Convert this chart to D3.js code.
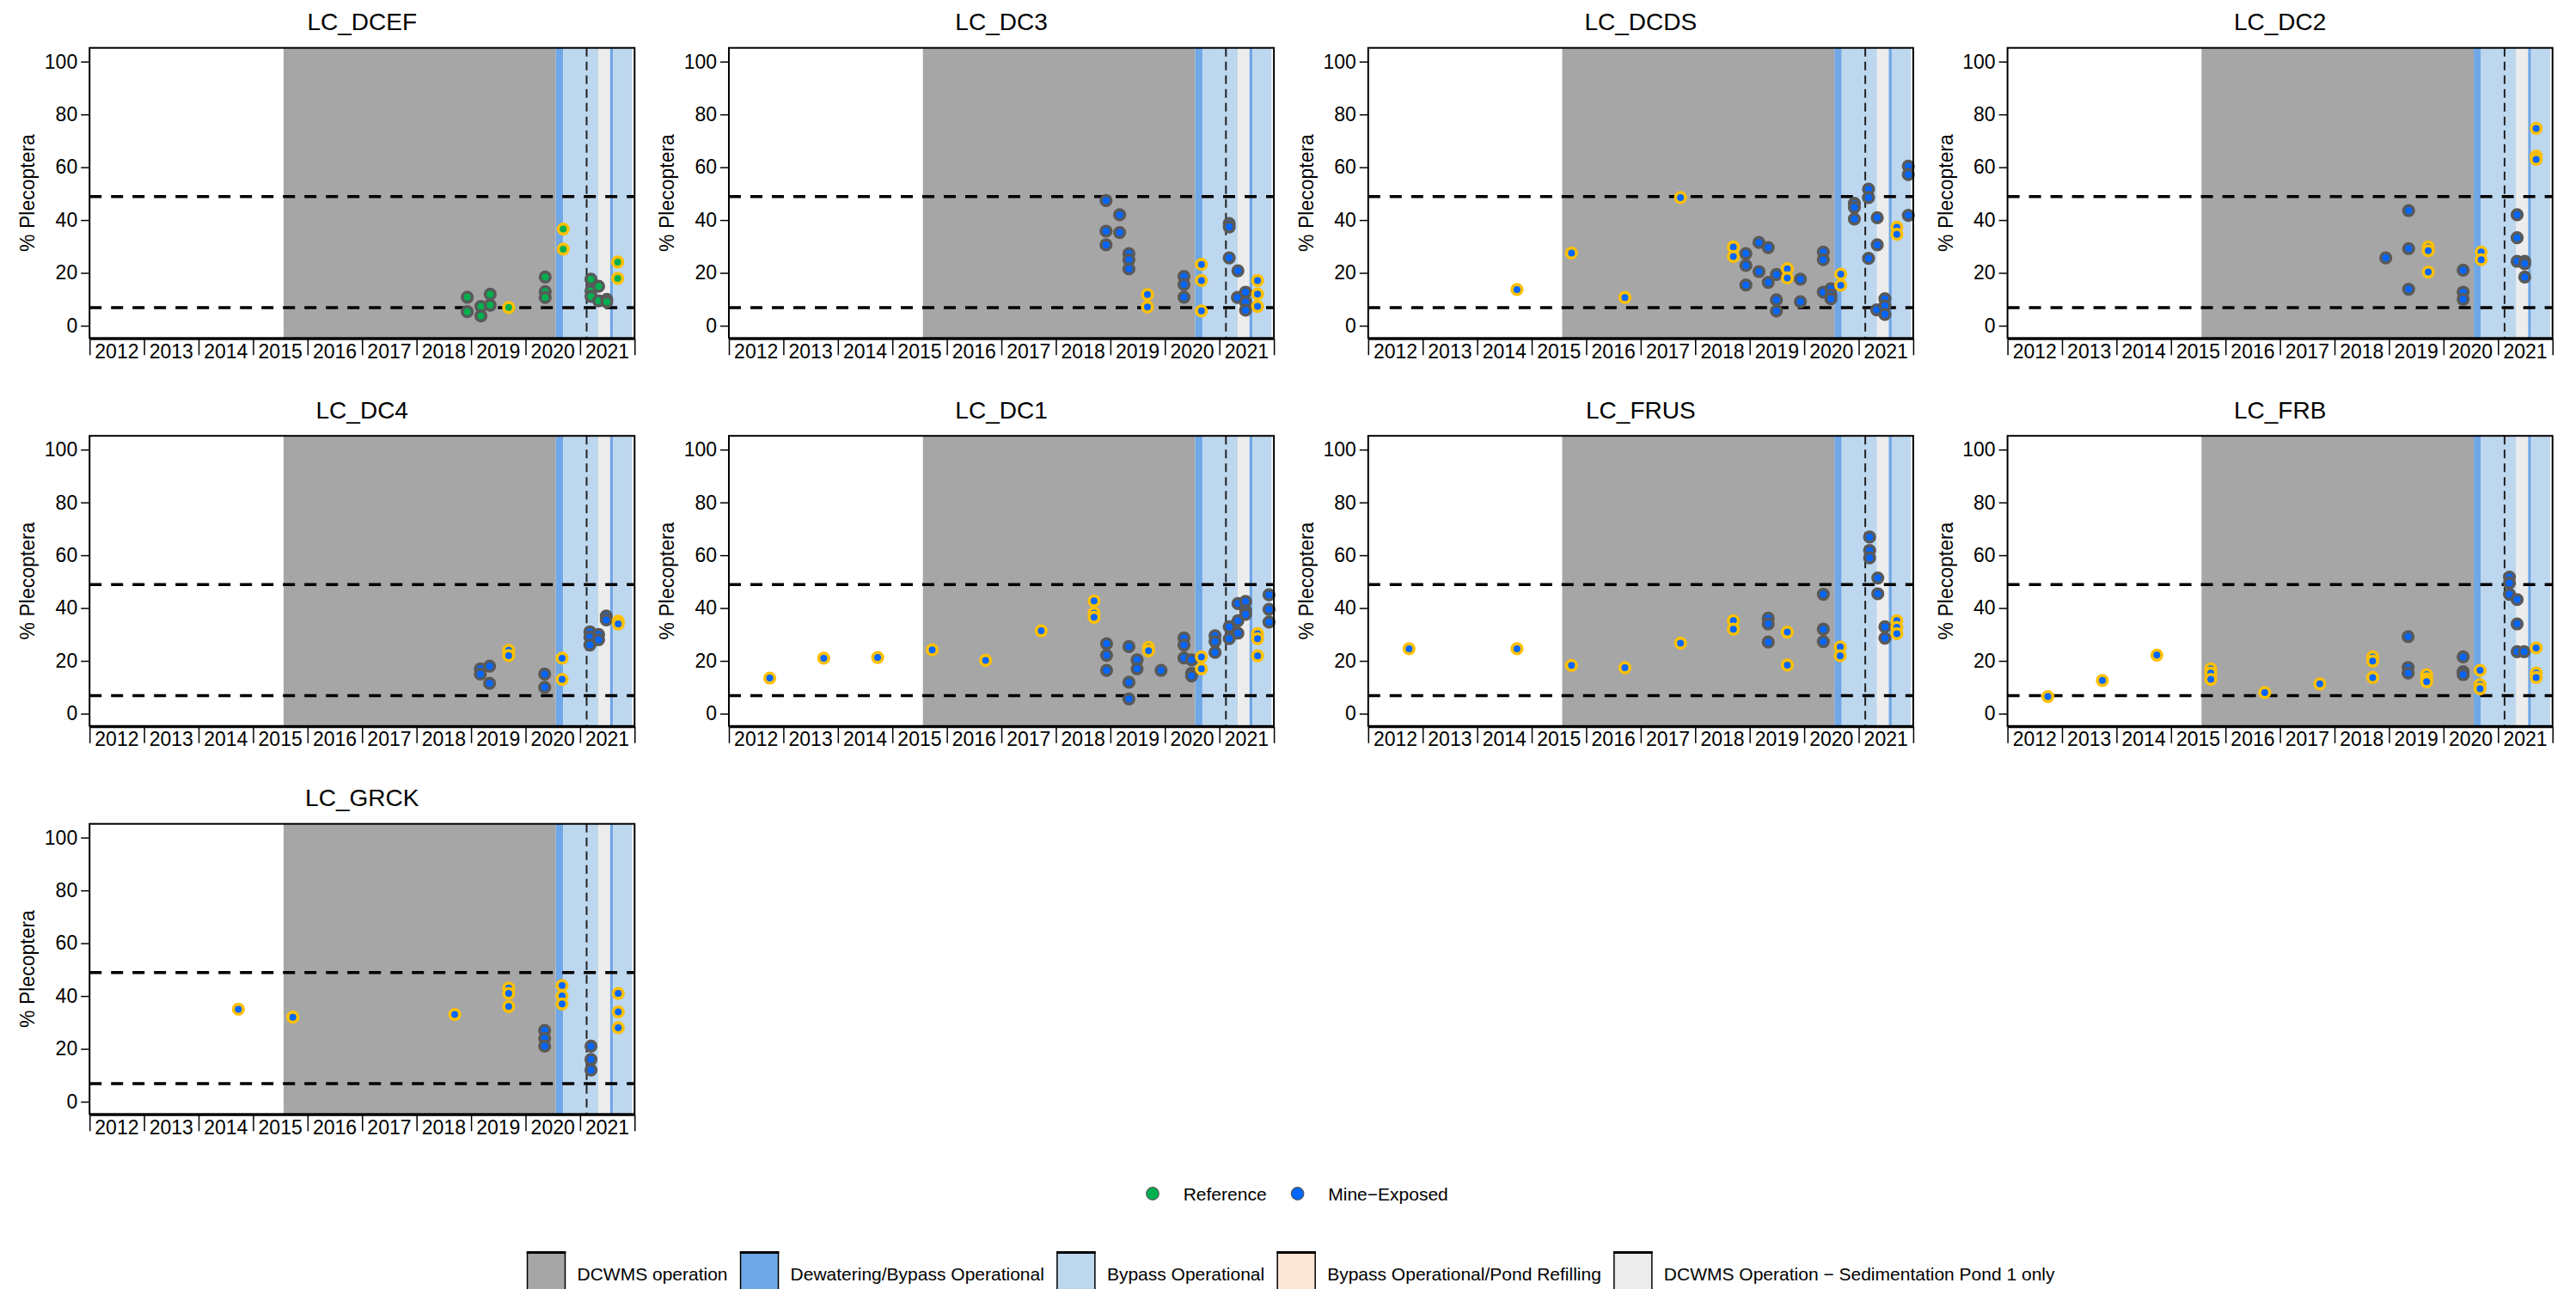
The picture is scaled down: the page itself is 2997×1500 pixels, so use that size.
<!DOCTYPE html>
<html>
<head>
<meta charset="utf-8">
<script src="https://cdn.jsdelivr.net/npm/d3@7"></script>
<style>
  body { margin: 0; background: #fff; }
  text { font-family: "Liberation Sans", Arial, Helvetica, sans-serif; fill: #000; }
</style>
</head>
<body>
<svg id="chart" width="2997" height="1500"></svg>
<script>
"use strict";

// sites, in panel order
var sites = ["LC_DCEF", "LC_DC3", "LC_DCDS", "LC_DC2", "LC_DC4", "LC_DC1", "LC_FRUS", "LC_FRB", "LC_GRCK"];
var siteType = ["Reference", "Mine-Exposed", "Mine-Exposed", "Mine-Exposed", "Mine-Exposed",
                "Mine-Exposed", "Mine-Exposed", "Mine-Exposed", "Mine-Exposed"];

var years = d3.range(2012, 2022);
var yTicks = [0, 20, 40, 60, 80, 100];
var benchmarks = [48.9, 6.8];
var transitionYear = 2021.12;

// operation periods: [start, end, period index] in decimal years
var periodNames = ["DCWMS operation", "Dewatering/Bypass Operational", "Bypass Operational",
                   "Bypass Operational/Pond Refilling", "DCWMS Operation \u2212 Sedimentation Pond 1 only"];
var periodColors = ["#a6a6a6", "#70a7e6", "#bdd7ee", "#fbe5d6", "#ececec"];
var periods = [
    [2015.56, 2020.555, 0],
    [2020.555, 2020.688, 1],
    [2020.688, 2021.336, 2],
    [2021.336, 2021.346, 3],
    [2021.346, 2021.552, 4],
    [2021.552, 2021.606, 1],
    [2021.606, 2021.957, 2]
];

// samples: [decimal year, % Plecoptera, ring (1 = gold, 0 = grey)]
var dcef = [
    [2018.93, 10.8, 0], [2018.93, 5.3, 0], [2019.18, 7.3, 0], [2019.18, 3.7, 0],
    [2019.35, 11.9, 0], [2019.35, 7.8, 0], [2019.69, 6.9, 1],
    [2020.36, 18.4, 0], [2020.36, 12.9, 0], [2020.36, 10.7, 0],
    [2020.69, 36.6, 1], [2020.69, 29.0, 1],
    [2021.20, 17.6, 0], [2021.20, 13.2, 0], [2021.20, 11.1, 0], [2021.34, 14.9, 0], [2021.34, 9.4, 0],
    [2021.49, 10.0, 0], [2021.49, 9.0, 0],
    [2021.69, 24.1, 1], [2021.69, 17.9, 1]
];
var dc3 = [
    [2018.92, 47.4, 0], [2019.17, 42.0, 0], [2018.92, 35.8, 0], [2019.17, 35.3, 0], [2018.92, 30.6, 0],
    [2019.34, 27.3, 0], [2019.34, 25.0, 0], [2019.34, 21.5, 0],
    [2019.68, 11.8, 1], [2019.68, 7.1, 1],
    [2020.35, 18.7, 0], [2020.35, 15.6, 0], [2020.35, 10.8, 0],
    [2020.67, 23.2, 1], [2020.67, 17.1, 1], [2020.67, 5.6, 1],
    [2021.18, 38.7, 0], [2021.18, 37.4, 0], [2021.18, 25.7, 0],
    [2021.34, 20.8, 0], [2021.33, 10.7, 0],
    [2021.48, 12.7, 0], [2021.48, 8.9, 0], [2021.48, 5.9, 0],
    [2021.70, 17.1, 1], [2021.70, 12.0, 1], [2021.70, 7.3, 1]
];
var dcds = [
    [2014.73, 13.7, 1], [2015.73, 27.5, 1], [2016.71, 10.7, 1], [2017.73, 48.5, 1],
    [2018.70, 29.8, 1], [2018.70, 26.2, 1],
    [2018.93, 27.3, 0], [2018.93, 22.8, 0], [2018.93, 15.4, 0],
    [2019.17, 31.5, 0], [2019.17, 20.5, 0], [2019.34, 29.6, 0], [2019.34, 16.4, 0],
    [2019.49, 19.4, 0], [2019.49, 9.8, 0], [2019.49, 5.6, 0],
    [2019.69, 21.6, 1], [2019.69, 18.1, 1],
    [2019.93, 17.6, 0], [2019.93, 9.1, 0],
    [2020.35, 27.9, 0], [2020.35, 25.0, 0], [2020.35, 12.7, 0],
    [2020.49, 14.0, 0], [2020.49, 11.6, 0], [2020.49, 10.2, 0],
    [2020.67, 19.5, 1], [2020.67, 15.3, 1],
    [2020.92, 46.3, 0], [2020.92, 44.8, 0], [2020.92, 40.4, 0],
    [2021.18, 51.7, 0], [2021.18, 48.5, 0], [2021.18, 25.5, 0],
    [2021.34, 40.9, 0], [2021.34, 30.6, 0], [2021.33, 6.0, 0],
    [2021.48, 10.2, 0], [2021.48, 7.5, 0], [2021.48, 4.3, 0],
    [2021.70, 37.3, 1], [2021.70, 34.6, 1],
    [2021.91, 60.4, 0], [2021.91, 57.2, 0], [2021.91, 41.8, 0]
];
var dc2 = [
    [2018.94, 25.7, 0], [2019.36, 43.6, 0], [2019.36, 29.2, 0], [2019.36, 13.8, 0],
    [2019.72, 29.8, 1], [2019.72, 28.4, 1], [2019.72, 20.3, 1],
    [2020.36, 21.0, 0], [2020.36, 12.7, 0], [2020.36, 10.0, 0],
    [2020.69, 27.9, 1], [2020.69, 25.0, 1],
    [2021.35, 42.0, 0], [2021.35, 33.3, 0], [2021.35, 24.4, 0],
    [2021.49, 24.4, 0], [2021.49, 23.5, 0], [2021.49, 18.4, 0],
    [2021.70, 74.7, 1], [2021.70, 64.2, 1], [2021.70, 63.0, 1]
];
var dc4 = [
    [2019.17, 17.0, 0], [2019.17, 15.0, 0], [2019.34, 18.0, 0], [2019.34, 11.5, 0],
    [2019.69, 24.0, 1], [2019.69, 22.0, 1],
    [2020.35, 15.0, 0], [2020.35, 10.0, 0],
    [2020.67, 21.0, 1], [2020.67, 13.0, 1],
    [2021.18, 31.0, 0], [2021.18, 29.0, 0], [2021.18, 26.0, 0],
    [2021.34, 30.0, 0], [2021.34, 28.0, 0],
    [2021.48, 37.0, 0], [2021.48, 35.5, 0],
    [2021.70, 35.0, 1], [2021.70, 34.0, 1]
];
var dc1 = [
    [2012.75, 13.5, 1], [2013.74, 21.0, 1], [2014.73, 21.3, 1], [2015.73, 24.2, 1],
    [2016.71, 20.2, 1], [2017.73, 31.4, 1],
    [2018.70, 42.7, 1], [2018.70, 38.1, 1], [2018.70, 36.5, 1],
    [2018.93, 26.5, 0], [2018.93, 22.1, 0], [2018.93, 16.4, 0],
    [2019.34, 25.4, 0], [2019.34, 11.9, 0], [2019.34, 5.6, 0],
    [2019.49, 20.4, 0], [2019.49, 17.0, 0],
    [2019.70, 25.1, 1], [2019.70, 23.8, 1],
    [2019.93, 16.4, 0],
    [2020.35, 28.7, 0], [2020.35, 26.0, 0], [2020.35, 21.1, 0],
    [2020.49, 20.4, 0], [2020.49, 15.3, 0], [2020.49, 14.3, 0],
    [2020.67, 21.5, 1], [2020.67, 17.0, 1],
    [2020.92, 29.5, 0], [2020.92, 27.3, 0], [2020.92, 23.2, 0],
    [2021.18, 32.9, 0], [2021.18, 28.4, 0],
    [2021.34, 41.7, 0], [2021.34, 35.2, 0], [2021.34, 30.5, 0],
    [2021.48, 42.5, 0], [2021.48, 39.0, 0], [2021.48, 37.6, 0],
    [2021.70, 30.3, 1], [2021.70, 28.4, 1], [2021.70, 21.9, 1],
    [2021.91, 45.0, 0], [2021.91, 39.5, 0], [2021.91, 34.7, 0]
];
var frus = [
    [2012.75, 24.6, 1], [2014.73, 24.6, 1], [2015.73, 18.3, 1], [2016.71, 17.4, 1], [2017.73, 26.7, 1],
    [2018.70, 35.2, 1], [2018.70, 32.0, 1],
    [2019.34, 36.2, 0], [2019.34, 34.0, 0], [2019.34, 27.1, 0],
    [2019.69, 30.9, 1], [2019.69, 18.4, 1],
    [2020.35, 45.2, 0], [2020.35, 32.0, 0], [2020.35, 27.3, 0],
    [2020.66, 25.3, 1], [2020.66, 21.9, 1],
    [2021.20, 66.9, 0], [2021.20, 61.8, 0], [2021.20, 59.0, 0],
    [2021.35, 51.4, 0], [2021.35, 45.4, 0],
    [2021.48, 32.9, 0], [2021.48, 28.6, 0],
    [2021.70, 35.2, 1], [2021.70, 32.7, 1], [2021.70, 30.3, 1]
];
var frb = [
    [2012.74, 6.5, 1], [2013.74, 12.6, 1], [2014.74, 22.2, 1],
    [2015.73, 17.0, 1], [2015.73, 15.4, 1], [2015.73, 13.0, 1],
    [2016.72, 8.0, 1], [2017.73, 11.3, 1],
    [2018.70, 21.5, 1], [2018.70, 19.9, 1], [2018.70, 13.7, 1],
    [2019.35, 29.2, 0], [2019.35, 17.5, 0], [2019.35, 15.4, 0],
    [2019.69, 14.8, 1], [2019.69, 13.2, 1], [2019.69, 12.1, 1],
    [2020.36, 21.5, 0], [2020.36, 15.9, 0], [2020.36, 14.8, 0],
    [2020.67, 16.4, 1], [2020.67, 11.0, 1], [2020.67, 9.4, 1],
    [2021.21, 51.7, 0], [2021.21, 49.5, 0], [2021.21, 45.2, 0],
    [2021.35, 43.2, 0], [2021.35, 34.0, 0], [2021.35, 23.5, 0],
    [2021.48, 23.5, 0],
    [2021.70, 24.9, 1], [2021.70, 15.4, 1], [2021.70, 13.7, 1]
];
var grck = [
    [2014.73, 35.0, 1], [2015.73, 32.0, 1], [2018.70, 33.0, 1],
    [2019.69, 43.0, 1], [2019.69, 41.0, 1], [2019.69, 36.0, 1],
    [2020.35, 27.0, 0], [2020.35, 24.0, 0], [2020.35, 21.0, 0],
    [2020.67, 44.0, 1], [2020.67, 40.0, 1], [2020.67, 37.0, 1],
    [2021.20, 21.0, 0], [2021.20, 16.0, 0], [2021.20, 12.0, 0],
    [2021.70, 41.0, 1], [2021.70, 34.0, 1], [2021.70, 28.0, 1]
];
var siteData = [dcef, dc3, dcds, dc2, dc4, dc1, frus, frb, grck];

var groupNames = ["Reference", "Mine-Exposed"];
var groupLabels = ["Reference", "Mine\u2212Exposed"];
var groupColors = ["#00b050", "#0066ff"];
var ringColors = ["#595959", "#ffc000"];

// layout
var plotLeft = 104.2, plotTop = 55.7;
var colStep = 743.8, rowStep = 451.5;
var plotW = 634.1, plotH = 337.6;

var x = d3.scaleLinear().domain([2012, 2022]).range([0, plotW]);
var y = d3.scaleLinear().domain([-4.65, 105.2]).range([plotH, 0]);

var svg = d3.select("#chart");

sites.forEach(function (site, i) {
    var col = i % 4, row = Math.floor(i / 4);
    var g = svg.append("g")
        .attr("transform", "translate(" + (plotLeft + col * colStep) + "," + (plotTop + row * rowStep) + ")");

    g.selectAll("rect.band")
        .data(periods)
        .enter()
        .append("rect")
        .attr("class", "band")
        .attr("x", function (d) { return x(d[0]); })
        .attr("width", function (d) { return x(d[1]) - x(d[0]); })
        .attr("y", 0)
        .attr("height", plotH)
        .attr("fill", function (d) { return periodColors[d[2]]; });

    g.selectAll("line.bench")
        .data(benchmarks)
        .enter()
        .append("line")
        .attr("x1", 0)
        .attr("x2", plotW)
        .attr("y1", function (d) { return y(d); })
        .attr("y2", function (d) { return y(d); })
        .attr("stroke", "#000")
        .attr("stroke-width", 3.5)
        .attr("stroke-dasharray", "14,11");

    g.append("line")
        .attr("x1", x(transitionYear))
        .attr("x2", x(transitionYear))
        .attr("y1", 0)
        .attr("y2", plotH)
        .attr("stroke", "#222")
        .attr("stroke-width", 2)
        .attr("stroke-dasharray", "10,6");

    var fill = groupColors[groupNames.indexOf(siteType[i])];
    var pts = siteData[i].slice().sort(function (a, b) { return a[2] - b[2]; });
    g.selectAll("circle.pt")
        .data(pts)
        .enter()
        .append("circle")
        .attr("cx", function (d) { return x(d[0]); })
        .attr("cy", function (d) { return y(d[1]); })
        .attr("r", 5.8)
        .attr("fill", fill)
        .attr("stroke", function (d) { return ringColors[d[2]]; })
        .attr("stroke-width", 3.6);

    g.append("rect")
        .attr("width", plotW)
        .attr("height", plotH)
        .attr("fill", "none")
        .attr("stroke", "#000")
        .attr("stroke-width", 2);

    // y axis
    var ya = g.append("g")
        .call(d3.axisLeft(y).tickValues(yTicks).tickSize(10).tickPadding(4));
    ya.select(".domain").remove();
    ya.selectAll("line").attr("stroke", "#000").attr("stroke-width", 1.5);
    ya.selectAll("text").style("font-size", "23px").attr("fill", "#000");

    // x axis: ticks at year boundaries, labels between
    var xa = g.append("g")
        .attr("transform", "translate(0," + (plotH + 1) + ")")
        .call(d3.axisBottom(x).tickValues(d3.range(2012, 2023)).tickSize(19).tickSizeOuter(0).tickFormat(""));
    xa.select(".domain").attr("stroke", "#000").attr("stroke-width", 2);
    xa.selectAll("line").attr("stroke", "#000").attr("stroke-width", 1.5);

    g.selectAll("text.year")
        .data(years)
        .enter()
        .append("text")
        .attr("class", "year")
        .attr("x", function (d) { return x(d + 0.5); })
        .attr("y", plotH + 23.4)
        .attr("text-anchor", "middle")
        .style("font-size", "23px")
        .text(function (d) { return d; });

    g.append("text")
        .attr("x", plotW / 2)
        .attr("y", -20.7)
        .attr("text-anchor", "middle")
        .style("font-size", "28px")
        .text(site);

    g.append("text")
        .attr("transform", "translate(-64," + (plotH / 2) + ") rotate(-90)")
        .attr("text-anchor", "middle")
        .style("font-size", "23px")
        .text("% Plecoptera");
});

// legend: site type
var leg1 = svg.append("g").attr("transform", "translate(0,1389)");
var cx = 1341;
groupLabels.forEach(function (lab, i) {
    leg1.append("circle")
        .attr("cx", cx)
        .attr("cy", 0)
        .attr("r", 7.3)
        .attr("fill", groupColors[i])
        .attr("stroke", "#555")
        .attr("stroke-width", 1.2);
    var t = leg1.append("text")
        .attr("x", cx + 35.7)
        .attr("y", 7.5)
        .style("font-size", "21px")
        .text(lab);
    cx = cx + 35.7 + t.node().getComputedTextLength() + 36;
});

// legend: operation periods
var leg2 = svg.append("g").attr("transform", "translate(0,1457)");
var items = [];
var bx = 0;
periodNames.forEach(function (name, i) {
    var t = leg2.append("text")
        .attr("y", 33)
        .style("font-size", "21px")
        .text(name);
    var w = t.node().getComputedTextLength();
    items.push({ box: bx, text: t });
    t.attr("x", bx + 58);
    bx = bx + 58 + w + 15;
});
var totalW = bx - 15;
var shift = 1502 - totalW / 2;
leg2.attr("transform", "translate(" + shift + ",1457)");
items.forEach(function (it, i) {
    leg2.append("rect")
        .attr("x", it.box)
        .attr("y", 0)
        .attr("width", 44)
        .attr("height", 60)
        .attr("fill", periodColors[i])
        .attr("stroke", "#000")
        .attr("stroke-width", 1.5);
    leg2.append("line")
        .attr("x1", it.box - 0.75)
        .attr("x2", it.box + 44.75)
        .attr("y1", 0.5)
        .attr("y2", 0.5)
        .attr("stroke", "#000")
        .attr("stroke-width", 3);
});
</script>
</body>
</html>
